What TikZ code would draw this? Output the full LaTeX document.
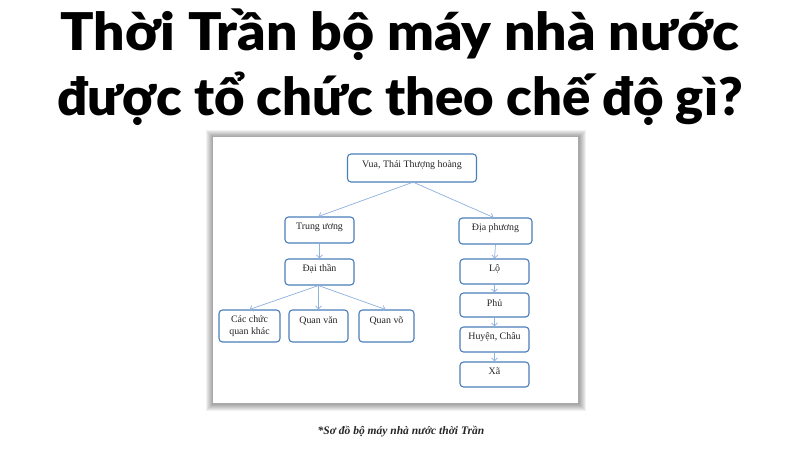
\documentclass[tikz,border=0pt]{standalone}
\usepackage{fontspec}
\setmainfont{Liberation Serif}
\newfontfamily\titlefont{Lato Black}
\usetikzlibrary{arrows.meta}
\definecolor{boxblue}{HTML}{4A7EBB}
\definecolor{arrblue}{HTML}{8DB0DD}
\tikzset{
  box/.style={draw=boxblue, line width=1.1pt, rounded corners=3.5pt, fill=white, inner sep=0pt},
  lbl/.style={font=\fontsize{9.9}{11.5}\selectfont, align=center, inner sep=0pt, text=black!85},
  conn/.style={draw=arrblue, line width=0.7pt, -{Straight Barb[length=3pt,width=6pt]}},
  ttl/.style={font=\titlefont\fontsize{52}{60}\selectfont, inner sep=0pt, anchor=base}
}
\begin{document}
\begin{tikzpicture}[x=1pt,y=-1pt]
\useasboundingbox (0,0) rectangle (800,450);
\fill[white] (0,0) rectangle (800,450);
% title
\node[ttl] (t1) at (400,50) {\scalebox{1.063}[1]{Thời Trần bộ máy nhà nước}};
\node[ttl] (t2) at (400,115) {\scalebox{1.012}[1]{được tổ chức theo chế độ gì?}};
% frame with shadow
\foreach \i in {7,6,5,4,3,2,1}{
  \fill[black, opacity=0.055] (213-\i,137-\i) rectangle (578+\i+1,403+\i+1);
}
\fill[white] (213,137) rectangle (578,403);
% boxes
\node[box, minimum width=129pt, minimum height=28pt, label={[lbl,yshift=2.5pt]center:{Vua, Thái Thượng hoàng}}] (vua) at (412,168) {};
\node[box, minimum width=69pt, minimum height=26pt, label={[lbl,yshift=2.5pt]center:{Trung ương}}] (tw) at (319.5,230) {};
\node[box, minimum width=73pt, minimum height=26pt, label={[lbl,yshift=2.5pt]center:{Địa phương}}] (dp) at (495.5,231) {};
\node[box, minimum width=69pt, minimum height=26pt, label={[lbl,yshift=3pt]center:{Đại thần}}] (dt) at (319.5,272) {};
\node[box, minimum width=69pt, minimum height=25pt, label={[lbl,yshift=3pt]center:{Lộ}}] (lo) at (494.5,271.5) {};
\node[box, minimum width=69pt, minimum height=24pt, label={[lbl,yshift=2pt]center:{Phủ}}] (phu) at (494.5,305) {};
\node[box, minimum width=69pt, minimum height=25pt, label={[lbl,yshift=2.5pt]center:{Huyện, Châu}}] (hc) at (494.5,339.5) {};
\node[box, minimum width=69pt, minimum height=25pt, label={[lbl,yshift=3pt]center:{Xã}}] (xa) at (494.5,374.5) {};
\node[box, minimum width=61pt, minimum height=32pt, label={[lbl,yshift=0pt]center:{Các chức\\quan khác}}] (ck) at (249.5,326) {};
\node[box, minimum width=59pt, minimum height=32pt, label={[lbl,yshift=5pt]center:{Quan văn}}] (qv) at (318.5,326) {};
\node[box, minimum width=55pt, minimum height=32pt, label={[lbl,yshift=5pt]center:{Quan võ}}] (qvo) at (386.5,326) {};
% connectors
\draw[conn] (vua.south) -- ([xshift=-1pt]tw.north);
\draw[conn] ([xshift=2pt]vua.south) -- ([xshift=-2pt]dp.north);
\draw[conn] (tw.south) -- (dt.north);
\draw[conn] (dp.south) -- (lo.north);
\draw[conn] (lo.south) -- (phu.north);
\draw[conn] (phu.south) -- (hc.north);
\draw[conn] (hc.south) -- (xa.north);
\draw[conn] ([xshift=-1pt]dt.south) -- (ck.north);
\draw[conn] ([xshift=-1pt]dt.south) -- (qv.north);
\draw[conn] ([xshift=-1pt]dt.south) -- ([xshift=-1pt]qvo.north);
% caption
\node[font=\bfseries\itshape\fontsize{11.5}{13}\selectfont, inner sep=0pt, text=black!85] (cap) at (401,432) {*Sơ đồ bộ máy nhà nước thời Trần};
\end{tikzpicture}
\end{document}
